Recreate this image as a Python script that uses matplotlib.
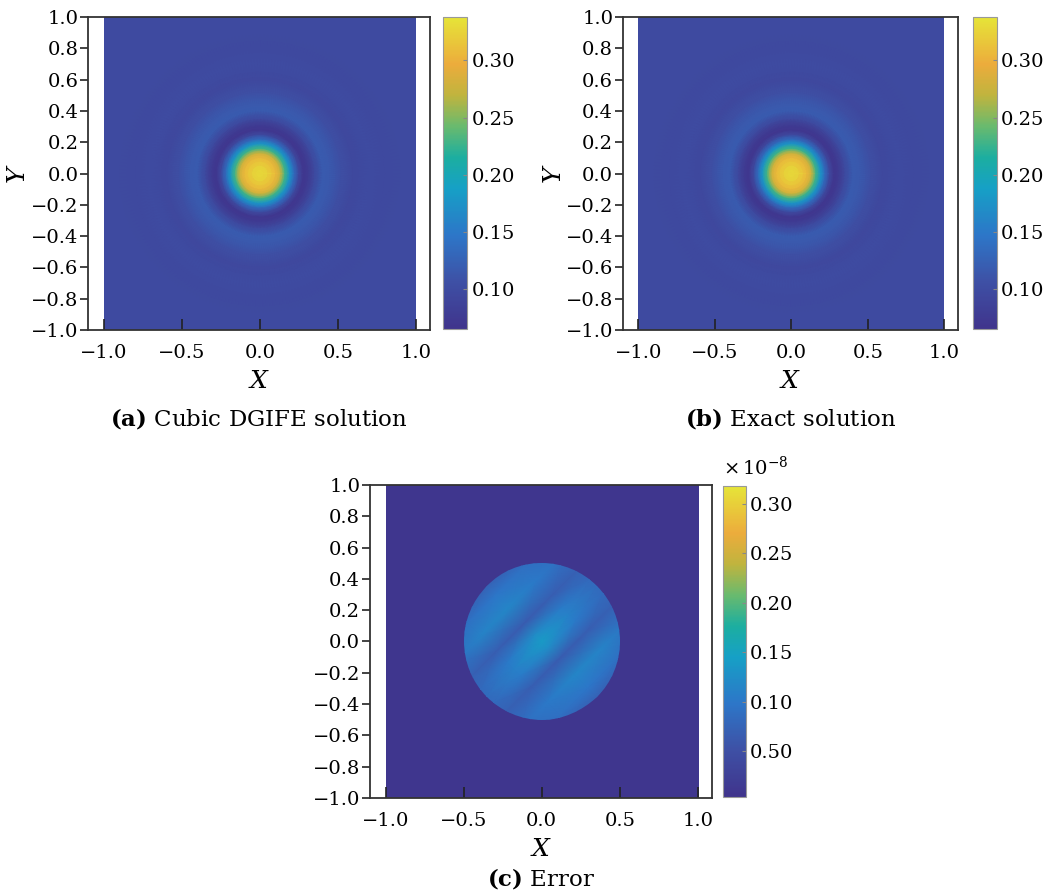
import numpy as np
import matplotlib
matplotlib.use("Agg")
import matplotlib.pyplot as plt
from matplotlib.colors import LinearSegmentedColormap
from matplotlib.patches import Rectangle, Circle
from matplotlib.ticker import FuncFormatter

plt.rcParams['font.family'] = ['DejaVu Serif']
plt.rcParams['mathtext.fontset'] = 'dejavuserif'

# radial profiles of the solution (a) and (b)
radius = [0.0, 0.05, 0.10, 0.13, 0.16, 0.19, 0.22, 0.25, 0.28, 0.31, 0.35,
          0.40, 0.45, 0.52, 0.60, 0.70, 0.80, 0.90, 1.00, 1.20, 1.42]
profile_dgife = [0.330, 0.325, 0.305, 0.278, 0.228, 0.178, 0.132, 0.094, 0.070,
                 0.077, 0.098, 0.118, 0.116, 0.105, 0.095, 0.100, 0.096, 0.098,
                 0.097, 0.097, 0.097]
profile_exact = [0.330, 0.325, 0.305, 0.278, 0.228, 0.178, 0.132, 0.094, 0.070,
                 0.077, 0.098, 0.118, 0.116, 0.105, 0.095, 0.100, 0.096, 0.098,
                 0.097, 0.097, 0.097]
sol_ticks = [0.10, 0.15, 0.20, 0.25, 0.30]

# error field (units of 1e-8): s runs across the diagonal bands, t along them
err_s = [-0.5, -0.42, -0.3, -0.16, -0.06, 0.0, 0.06, 0.16, 0.3, 0.42, 0.5]
err_t = [-0.5, -0.25, 0.0, 0.25, 0.5]
err_vals = [
    [0.070, 0.072, 0.074, 0.072, 0.070],
    [0.082, 0.092, 0.098, 0.090, 0.080],
    [0.092, 0.112, 0.116, 0.102, 0.088],
    [0.072, 0.068, 0.066, 0.068, 0.072],
    [0.082, 0.102, 0.124, 0.104, 0.082],
    [0.084, 0.110, 0.140, 0.110, 0.084],
    [0.082, 0.104, 0.124, 0.102, 0.082],
    [0.072, 0.068, 0.066, 0.068, 0.072],
    [0.088, 0.102, 0.116, 0.112, 0.092],
    [0.080, 0.090, 0.098, 0.092, 0.082],
    [0.070, 0.072, 0.074, 0.072, 0.070],
]
err_background = 0.010
err_ticks = [0.05, 0.10, 0.15, 0.20, 0.25, 0.30]
err_ticklabels = ['0.50', '0.10', '0.15', '0.20', '0.25', '0.30']

# parula-like colormap, slightly faded as in the print
cmap = LinearSegmentedColormap.from_list('parula_like', [
    (0.00, (64/255, 52/255, 140/255)),
    (0.15, (62/255, 80/255, 165/255)),
    (0.30, (45/255, 118/255, 200/255)),
    (0.45, (22/255, 160/255, 198/255)),
    (0.55, (28/255, 174/255, 160/255)),
    (0.65, (105/255, 186/255, 110/255)),
    (0.75, (192/255, 180/255, 62/255)),
    (0.85, (236/255, 172/255, 60/255)),
    (1.00, (230/255, 228/255, 56/255)),
])

fig = plt.figure(figsize=(10.64, 8.96), dpi=100)


def fmt1(v, pos):
    s = f'{v:.1f}'
    if s == '-0.0':
        s = '0.0'
    return s.replace('-', '\u2212')


def style_axes(ax, ylabel=True):
    ax.set_xlim(-1.1, 1.09)
    ax.set_ylim(-1.0, 1.0)
    ax.set_xticks([-1.0, -0.5, 0.0, 0.5, 1.0])
    ax.set_yticks(np.round(np.arange(-1.0, 1.01, 0.2), 1))
    ax.xaxis.set_major_formatter(FuncFormatter(fmt1))
    ax.yaxis.set_major_formatter(FuncFormatter(fmt1))
    ax.tick_params(axis='x', direction='in', length=8, width=1.2, labelsize=14, pad=10, color='#222222')
    ax.tick_params(axis='y', direction='out', length=6, width=1.2, labelsize=14, pad=1, color='#222222')
    for sp in ax.spines.values():
        sp.set_color('#333333')
        sp.set_linewidth(1.3)
    ax.set_xlabel('$X$', fontsize=18, labelpad=6)
    if ylabel:
        ax.set_ylabel('$Y$', fontsize=18)
        ax.yaxis.set_label_coords(-0.17, 0.5)


def style_cbar(cb):
    cb.outline.set_edgecolor('#999999')
    cb.outline.set_linewidth(0.8)
    cb.ax.tick_params(direction='in', length=3, width=0.8, color='#888888', labelsize=14, pad=3)


def radial_panel(rect, crect, profile, caption):
    ax = fig.add_axes(rect)
    theta = np.linspace(0, 2 * np.pi, 241)
    R, T = np.meshgrid(radius, theta)
    C = np.tile(profile, (len(theta), 1))
    mesh = ax.pcolormesh(R * np.cos(T), R * np.sin(T), C, shading='gouraud',
                         cmap=cmap, vmin=0.065, vmax=0.338)
    mesh.set_clip_path(Rectangle((-1, -1), 2, 2, transform=ax.transData))
    style_axes(ax)
    ax.text(0.5, -0.282, caption, transform=ax.transAxes, ha='center', va='center', fontsize=16.5)
    cax = fig.add_axes(crect)
    cb = fig.colorbar(mesh, cax=cax, ticks=sol_ticks, format='%.2f')
    style_cbar(cb)
    return ax


radial_panel([0.0827, 0.6317, 0.3214, 0.3493], [0.4164, 0.6328, 0.0226, 0.3482],
             profile_dgife, r'$\mathbf{(a)}$ Cubic DGIFE solution')
radial_panel([0.5855, 0.6317, 0.3149, 0.3493], [0.9145, 0.6328, 0.0226, 0.3482],
             profile_exact, r'$\mathbf{(b)}$ Exact solution')

# panel (c): error
axc = fig.add_axes([0.3477, 0.1094, 0.3214, 0.3493])
scale = 1e-8
axc.imshow([[err_background * scale]], extent=[-1, 1, -1, 1], cmap=cmap,
           vmin=0.004 * scale, vmax=0.318 * scale, aspect='auto', origin='lower')
S, Tt = np.meshgrid(err_s, err_t, indexing='ij')
Xc = (S + Tt) / np.sqrt(2)
Yc = (Tt - S) / np.sqrt(2)
mc = axc.pcolormesh(Xc, Yc, np.array(err_vals) * scale, shading='gouraud', cmap=cmap,
                    vmin=0.004 * scale, vmax=0.318 * scale)
mc.set_clip_path(Circle((0, 0), 0.5, transform=axc.transData))
style_axes(axc, ylabel=False)
axc.text(0.5, -0.258, r'$\mathbf{(c)}$ Error', transform=axc.transAxes, ha='center', va='center', fontsize=16.5)
caxc = fig.add_axes([0.6795, 0.1105, 0.0216, 0.347])
cbc = fig.colorbar(mc, cax=caxc, ticks=[v * scale for v in err_ticks])
cbc.ax.set_yticklabels(err_ticklabels)
style_cbar(cbc)
caxc.text(0.0, 1.025, r'$\times\,10^{-8}$', transform=caxc.transAxes, ha='left', va='bottom', fontsize=14)

fig.savefig('out.png', dpi=100)
